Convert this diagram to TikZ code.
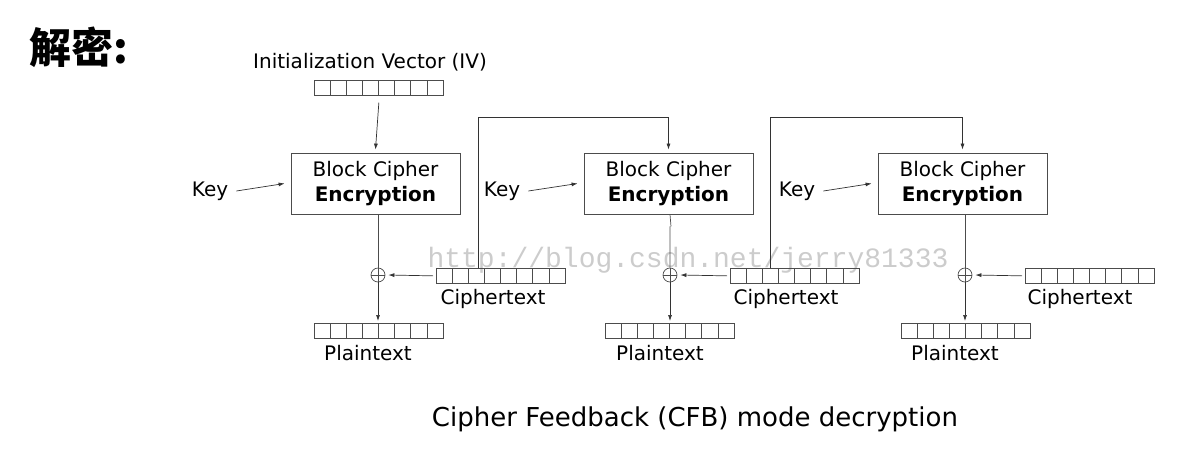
\documentclass[tikz,border=0pt]{standalone}
\usepackage{fontspec}
\setmainfont{DejaVu Sans}
\newfontfamily\cjk{Noto Sans CJK SC}
\newfontfamily\wm{Liberation Mono}
\usetikzlibrary{arrows.meta,calc}
\begin{document}
\begin{tikzpicture}[x=1pt,y=-1pt,
 lbl/.style={font=\fontsize{20}{22}\selectfont,inner sep=0pt},
 blk/.style={draw=black!70,line width=0.8pt,minimum width=169pt,minimum height=61pt,align=center,font=\fontsize{20}{25}\selectfont,inner sep=0pt},
 arr/.style={draw=black!80,line width=0.7pt,-{Latex[length=6pt,width=4pt]}},
 ln/.style={draw=black!70,line width=0.7pt},
 xr/.style={circle,draw=black!70,line width=0.7pt,minimum size=14pt,inner sep=0pt,path picture={\draw[black!70,line width=0.6pt] (path picture bounding box.north)--(path picture bounding box.south) (path picture bounding box.west)--(path picture bounding box.east);}}]
\useasboundingbox (0,0) rectangle (1195,459);
\newcommand{\reg}[3]{%
 \node[draw=black!70,line width=0.7pt,minimum width=129pt,minimum height=15pt,inner sep=0pt,anchor=north west] (#1) at (#2,#3) {};
 \foreach \i in {1,...,7}{\draw[black!70,line width=0.6pt] ($(#1.north west)+(\i*16.125,0)$) -- ($(#1.south west)+(\i*16.125,0)$);}}
\node[font=\cjk\bfseries\fontsize{42}{46}\selectfont,inner sep=0pt] (title) at (79,47) {解密:};
\node[font=\wm\fontsize{28}{30}\selectfont,text=black!20,inner sep=0pt] (wmk) at (688,260) {http://blog.csdn.net/jerry81333};
\node[lbl] (ivl) at (370,62) {Initialization Vector (IV)};
\reg{iv}{314}{80}
% stage 1
\node[blk] (b1) at (375.5,183.5) {Block Cipher\\\textbf{Encryption}};
\node[lbl] (k1) at (210,191) {Key};
\node[xr] (x1) at (378,275) {};
\reg{c1}{436}{268}
\reg{p1}{314}{323}
\node[lbl] (cl1) at (493,299) {Ciphertext};
\node[lbl] (pl1) at (368,353) {Plaintext};
% stage 2
\node[blk] (b2) at (668.5,183.5) {Block Cipher\\\textbf{Encryption}};
\node[lbl] (k2) at (502,191) {Key};
\node[xr] (x2) at (670,275) {};
\reg{c2}{730}{268}
\reg{p2}{605}{323}
\node[lbl] (cl2) at (786,299) {Ciphertext};
\node[lbl] (pl2) at (660,353) {Plaintext};
% stage 3
\node[blk] (b3) at (962.5,183.5) {Block Cipher\\\textbf{Encryption}};
\node[lbl] (k3) at (797,191) {Key};
\node[xr] (x3) at (965,275) {};
\reg{c3}{1025}{268}
\reg{p3}{901}{323}
\node[lbl] (cl3) at (1080,299) {Ciphertext};
\node[lbl] (pl3) at (955,353) {Plaintext};
\node[font=\fontsize{26}{28}\selectfont,inner sep=0pt] (cap) at (695,419) {Cipher Feedback (CFB) mode decryption};
% connectors
\draw[arr] ($(iv.south)+(0,7)$) -- ($(b1.north)+(0,-3)$);
\foreach \k/\b in {k1/b1,k2/b2,k3/b3}{\draw[arr] ($(\k.east)+(8,0)$) -- ($(\b.west)+(-6,0)$);}
\foreach \b/\x/\p/\c in {b1/x1/p1/c1,b2/x2/p2/c2,b3/x3/p3/c3}{
 \draw[ln] ($(\b.south)+(2.5,12)$) -- (\b.south -| \x) ++(0,12) -- (\x.north);
 \draw[arr] (\x.south) -- ($(\x.south |- \p.north)+(0,-2)$);
 \draw[arr] ($(\c.west)+(-3,0)$) -- ($(\x.east)+(3,0)$);}
\coordinate (t1) at (478,117);
\coordinate (t2) at (770,117);
\draw[arr] (c1.north -| t1) -- (t1) -| ($(b2.north)+(0,-3)$);
\draw[arr] (c2.north -| t2) -- (t2) -| ($(b3.north)+(0,-3)$);
\end{tikzpicture}
\end{document}
